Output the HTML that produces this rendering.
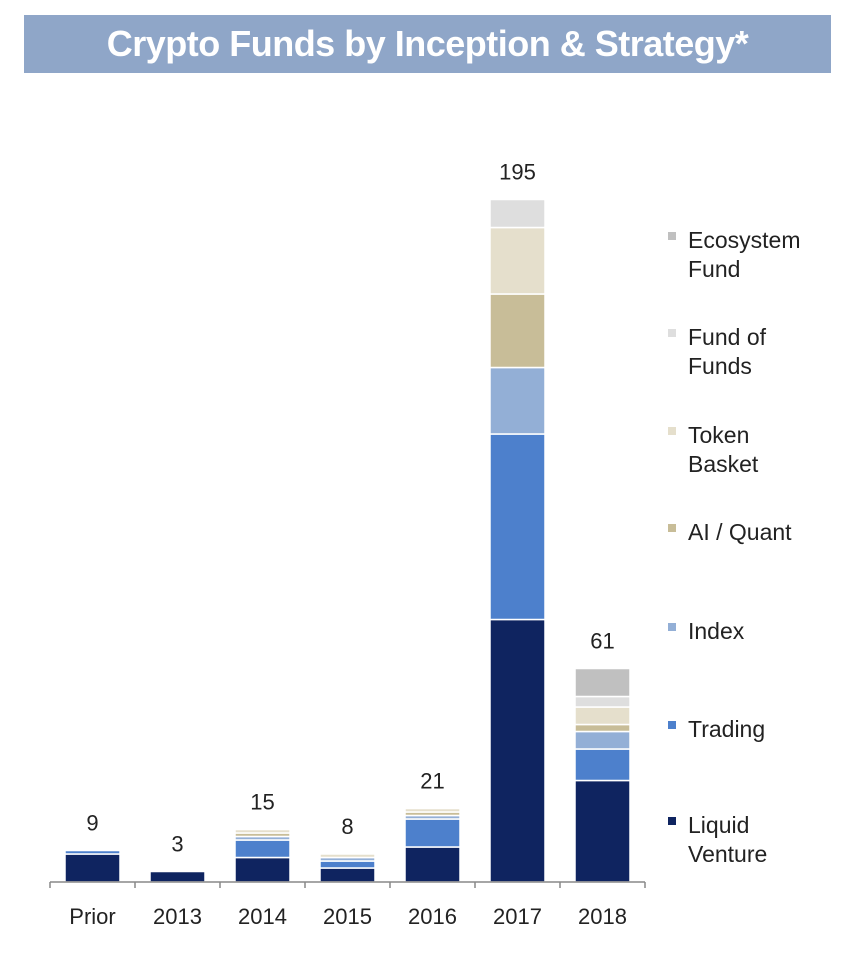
<!DOCTYPE html>
<html><head><meta charset="utf-8"><style>
body{margin:0;background:#fff;width:844px;height:958px;overflow:hidden;font-family:"Liberation Sans",sans-serif}
#banner{position:absolute;left:24px;top:15px;width:807px;height:58px;background:#8fa6c8;color:#fff;font-weight:bold;font-size:36px;text-align:center;line-height:58px;letter-spacing:-0.5px}
svg{position:absolute;left:0;top:0}
</style></head><body>
<div id="banner">Crypto Funds by Inception &amp; Strategy*</div>
<svg id="chart" width="844" height="958"></svg>
<script>
const categories=["Prior","2013","2014","2015","2016","2017","2018"];
const seriesNames=["Liquid Venture","Trading","Index","AI / Quant","Token Basket","Fund of Funds","Ecosystem Fund"];
const liquidVenture=[8,3,7,4,10,75,29];
const trading=[1,0,5,2,8,53,9];
const indexFunds=[0,0,1,1,1,19,5];
const aiQuant=[0,0,1,0,1,21,2];
const tokenBasket=[0,0,1,1,1,19,5];
const fundOfFunds=[0,0,0,0,0,8,3];
const ecosystem=[0,0,0,0,0,0,8];
const totals=[9,3,15,8,21,195,61];
const colors=["#0f2460","#4d80cc","#93afd6","#c8bd98","#e5dfcc","#dedede","#c0c0c0"];
const series=[liquidVenture,trading,indexFunds,aiQuant,tokenBasket,fundOfFunds,ecosystem];
const svg=document.getElementById('chart');const NS="http://www.w3.org/2000/svg";
const base=882,scale=3.5,x0=50,step=85,bw=55;
const y=v=>base-v*scale; const xc=i=>x0+step*(i+0.5);
function mk(t,a){const e=document.createElementNS(NS,t);for(const k in a)e.setAttribute(k,a[k]);svg.appendChild(e);return e;}
categories.forEach((c,i)=>{
 let acc=0;
 series.forEach((s,j)=>{const v=s[i];if(!v)return;
  const r=mk('rect',{x:xc(i)-bw/2,y:y(acc+v),width:bw,height:v*scale,fill:colors[j],stroke:'#fff','stroke-width':1.5});
  
  
  acc+=v;});
 const t=mk('text',{x:xc(i),y:y(totals[i])-20,'font-size':22,'text-anchor':'middle',fill:'#222'});t.textContent=totals[i];
 
 
 const l=mk('text',{x:xc(i),y:924,'font-size':22,'text-anchor':'middle',fill:'#222'});l.textContent=c;
 
 
});
const ax=mk('line',{x1:x0,x2:x0+step*7,y1:base,y2:base,stroke:'#888','stroke-width':1.5});


for(let i=0;i<=7;i++){const tk=mk('line',{x1:x0+step*i,x2:x0+step*i,y1:base,y2:base+6,stroke:'#888','stroke-width':1.5});
 
 }
const legend=[["Ecosystem","Fund"],["Fund of","Funds"],["Token","Basket"],["AI / Quant"],["Index"],["Trading"],["Liquid","Venture"]];
const legY=[240,337,435,532,631,729,825];const legC=[6,5,4,3,2,1,0];
legend.forEach((lines,k)=>{
 const m=mk('rect',{x:668,y:legY[k]-8,width:8,height:8,fill:colors[legC[k]]});
 
 
 lines.forEach((s,n)=>{const t=mk('text',{x:688,y:legY[k]+8+n*29,'font-size':23,fill:'#222'});t.textContent=s;
  
  });
});
</script>
</body></html>
